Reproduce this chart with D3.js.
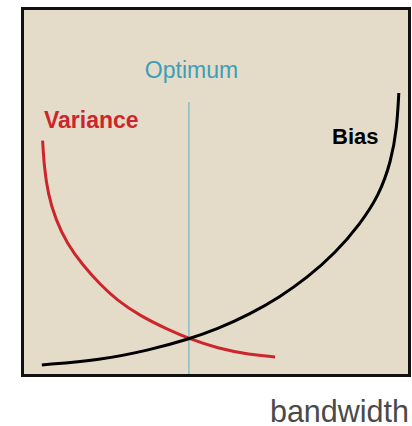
<!DOCTYPE html>
<html>
  <head>
    <title>Bias-Variance</title>
    <script src="https://cdn.jsdelivr.net/npm/d3@7"></script>
    <style>
      body { margin: 0; background: #fff; }
      text { font-family: "Liberation Sans", Arial, sans-serif; }
    </style>
  </head>
  <body>
    <svg width="412" height="426" id="mainsvg"></svg>
    <script>
      // values, 0..100 on both axes
      const varianceX = [4.6, 5.0, 6.0, 8.0, 11.0, 15.0, 19.6, 24.0, 30.0, 37.1, 43.1, 50.1, 58.7, 65.3];
      const varianceY = [64.1, 57.0, 49.5, 42.4, 35.8, 30.0, 24.6, 20.3, 16.0, 12.3, 9.6, 7.1, 5.3, 4.7];
      const biasX = [4.4, 19.6, 32.6, 42.8, 50.1, 58.7, 66.6, 73.5, 81.0, 87.5, 92.5, 95.6, 97.1, 97.6];
      const biasY = [2.5, 3.8, 6.6, 9.6, 12.3, 16.4, 21.2, 26.3, 33.2, 41.2, 49.2, 58.5, 67.5, 77.2];
      const optimumX = 42.8;
      const optimumTop = 74.7;

      const svg = d3.select('#mainsvg');
      const box = {left: 22.5, top: 8.5, right: 409.5, bottom: 375.5};

      const xScale = d3.scaleLinear().domain([0, 100]).range([25, 408]);
      const yScale = d3.scaleLinear().domain([0, 100]).range([374, 10]);

      svg.append('rect')
        .attr('x', box.left).attr('y', box.top)
        .attr('width', box.right - box.left).attr('height', box.bottom - box.top)
        .attr('fill', '#e4dcc8')
        .attr('stroke', '#111')
        .attr('stroke-width', 3);
      svg.append('line')
        .attr('x1', box.left - 0.5).attr('x2', box.left - 0.5)
        .attr('y1', box.top - 1.5).attr('y2', box.bottom + 1.5)
        .attr('stroke', '#111').attr('stroke-width', 2);

      const line = d3.line()
        .x(d => xScale(d[0]))
        .y(d => yScale(d[1]))
        .curve(d3.curveBasis);

      svg.append('line')
        .attr('x1', xScale(optimumX)).attr('x2', xScale(optimumX))
        .attr('y1', yScale(optimumTop)).attr('y2', yScale(0))
        .attr('stroke', '#8cbcc4').attr('stroke-width', 1.5);

      svg.append('path')
        .datum(varianceX.map((x, i) => [x, varianceY[i]]))
        .attr('d', line)
        .attr('fill', 'none').attr('stroke', '#cc262c').attr('stroke-width', 3);

      svg.append('path')
        .datum(biasX.map((x, i) => [x, biasY[i]]))
        .attr('d', line)
        .attr('fill', 'none').attr('stroke', '#000').attr('stroke-width', 3);

      svg.append('text').text('Optimum')
        .attr('x', 191.5).attr('y', 78).attr('text-anchor', 'middle')
        .attr('font-size', 23).attr('fill', '#3c9fb7');
      svg.append('text').text('Variance')
        .attr('x', 44).attr('y', 128)
        .attr('font-size', 23).attr('font-weight', 'bold').attr('fill', '#cc262c');
      svg.append('text').text('Bias')
        .attr('x', 332).attr('y', 144)
        .attr('font-size', 22).attr('font-weight', 'bold').attr('fill', '#000');
      svg.append('text').text('bandwidth')
        .attr('x', 409).attr('y', 421.5).attr('text-anchor', 'end')
        .attr('font-size', 30.5).attr('fill', '#4a4a4a');
    </script>
  </body>
</html>
